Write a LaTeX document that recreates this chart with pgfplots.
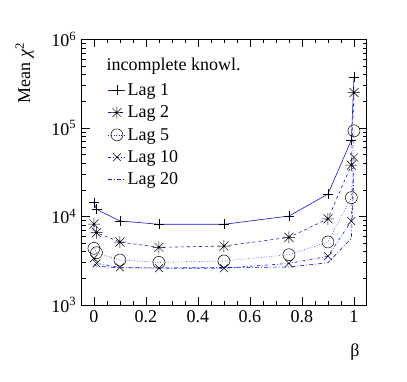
\documentclass[border=0pt]{standalone}
\usepackage{fontspec}
\setmainfont{Liberation Serif}
\usepackage{pgfplots}
\pgfplotsset{compat=1.18}
\definecolor{rootBlue}{RGB}{20,20,225}
% ROOT style star: a plus and a cross on top of each other
\pgfdeclareplotmark{rootstar}{%
  \pgfpathmoveto{\pgfqpoint{-\pgfplotmarksize}{0pt}}\pgfpathlineto{\pgfqpoint{\pgfplotmarksize}{0pt}}%
  \pgfpathmoveto{\pgfqpoint{0pt}{-\pgfplotmarksize}}\pgfpathlineto{\pgfqpoint{0pt}{\pgfplotmarksize}}%
  \pgfpathmoveto{\pgfqpoint{-.75\pgfplotmarksize}{-.75\pgfplotmarksize}}\pgfpathlineto{\pgfqpoint{.75\pgfplotmarksize}{.75\pgfplotmarksize}}%
  \pgfpathmoveto{\pgfqpoint{-.75\pgfplotmarksize}{.75\pgfplotmarksize}}\pgfpathlineto{\pgfqpoint{.75\pgfplotmarksize}{-.75\pgfplotmarksize}}%
  \pgfusepathqstroke}
\begin{document}
\begin{tikzpicture}
\path[use as bounding box] (0,0) rectangle (407bp,382bp);
\begin{axis}[
  at={(81.7bp,77bp)}, anchor=south west,
  scale only axis, width=285bp, height=265.7bp,
  ymode=log, ymin=1e3, ymax=1e6,
  xmin=-0.047, xmax=1.049,
  xtick={0,0.2,0.4,0.6,0.8,1}, minor x tick num=3,
  ytick={1e3,1e4,1e5,1e6},
  yticklabels={10\textsuperscript{3},10\textsuperscript{4},10\textsuperscript{5},10\textsuperscript{6}},
  tick align=inside,
  major tick length=8bp, minor tick length=4bp,
  every tick/.style={black, line width=0.5bp},
  axis line style={line width=0.7bp},
  /pgf/number format/assume math mode=true,
  ticklabel style={font=\fontsize{18bp}{21bp}\selectfont},
  xticklabel style={yshift=-2bp},
  yticklabel style={xshift=-2bp},
  xlabel={β},
  xlabel style={font=\fontsize{18bp}{21bp}\selectfont, at={(axis description cs:0.959,-0.177)}, anchor=center},
  ylabel={Mean \textit{χ}\textsuperscript{2}},
  ylabel style={font=\fontsize{18bp}{21bp}\selectfont, at={(axis description cs:-0.2,1)}, anchor=east},
  legend style={draw=none, fill=none, at={(axis description cs:0.092,0.842)}, anchor=north west,
    font=\fontsize{18bp}{21bp}\selectfont, row sep=5bp, inner sep=0pt},
  legend cell align=left,
  every axis plot/.append style={line width=0.6bp, rootBlue},
]
\addplot[mark=+, mark size=5bp, mark options={black, solid, line width=0.5bp}] coordinates {
(0,14300) (0.01,12000) (0.1,8900) (0.25,8150) (0.5,8150) (0.75,10100) (0.9,17900) (0.99,72800) (1,377000)};
\addlegendentry{Lag 1}
\addplot[dashed, mark=rootstar, mark size=6bp, mark options={black, solid, line width=0.5bp}] coordinates {
(0,8200) (0.01,6550) (0.1,5140) (0.25,4480) (0.5,4630) (0.75,5800) (0.9,9400) (0.99,38000) (1,251000)};
\addlegendentry{Lag 2}
\addplot[dotted, mark=o, mark size=6bp, mark options={black, solid, line width=0.5bp}] coordinates {
(0,4360) (0.01,3890) (0.1,3220) (0.25,3030) (0.5,3140) (0.75,3700) (0.9,5150) (0.99,16300) (1,92600)};
\addlegendentry{Lag 5}
\addplot[dash dot, mark=x, mark size=5.5bp, mark options={black, solid, line width=0.5bp}] coordinates {
(0,3360) (0.01,2950) (0.1,2660) (0.25,2600) (0.5,2600) (0.75,2950) (0.9,3550) (0.99,8870) (1,46400)};
\addlegendentry{Lag 10}
\addplot[dash pattern=on 4bp off 2bp on 1bp off 2bp] coordinates {
(0,2900) (0.01,2750) (0.1,2620) (0.25,2620) (0.5,2650) (0.75,2680) (0.9,3000) (0.99,5670) (1,30000)};
\addlegendentry{Lag 20}
\node[anchor=west, font=\fontsize{18bp}{21bp}\selectfont] at (axis description cs:0.075,0.9) {incomplete knowl.};
\end{axis}
\end{tikzpicture}
\end{document}
